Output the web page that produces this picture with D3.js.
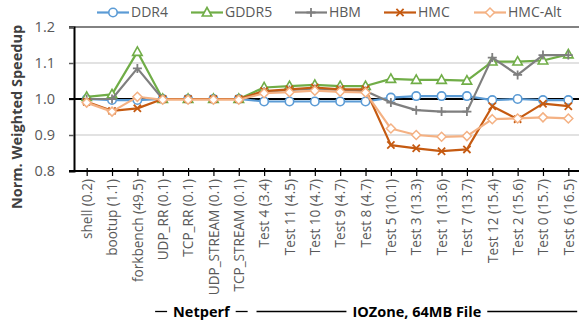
<!DOCTYPE html>
<html>
<head>
<meta charset="utf-8">
<script src="https://cdn.jsdelivr.net/npm/d3@7"></script>
<style>
  html, body { margin: 0; padding: 0; background: #fff; }
  svg { display: block; }
  text { font-family: "Open Sans", "Liberation Sans", sans-serif; }
</style>
</head>
<body>
<svg id="chart" width="579" height="320"></svg>
<script>
// Workloads (value in parentheses: memory intensity)
const categories = [
  "shell (0.2)", "bootup (1.1)", "forkbench (49.5)", "UDP_RR (0.1)", "TCP_RR (0.1)",
  "UDP_STREAM (0.1)", "TCP_STREAM (0.1)", "Test 4 (3.4)", "Test 11 (4.5)", "Test 10 (4.7)",
  "Test 9 (4.7)", "Test 8 (4.7)", "Test 5 (10.1)", "Test 3 (13.3)", "Test 1 (13.6)",
  "Test 7 (13.7)", "Test 12 (15.4)", "Test 2 (15.6)", "Test 0 (15.7)", "Test 6 (16.5)"
];

const seriesNames = ["DDR4", "GDDR5", "HBM", "HMC", "HMC-Alt"];

const ddr4   = [1.000, 0.997, 0.997, 1.000, 1.000, 1.000, 1.000, 0.993, 0.993, 0.993,
                0.993, 0.993, 1.004, 1.008, 1.008, 1.008, 0.997, 1.000, 0.997, 0.997];
const gddr5  = [1.006, 1.013, 1.131, 1.000, 1.000, 1.000, 1.000, 1.032, 1.036, 1.039,
                1.036, 1.036, 1.056, 1.053, 1.053, 1.051, 1.104, 1.104, 1.107, 1.124];
const hbm    = [1.000, 1.000, 1.085, 1.000, 1.000, 1.000, 1.000, 1.020, 1.025, 1.028,
                1.025, 1.022, 0.990, 0.969, 0.965, 0.965, 1.115, 1.067, 1.122, 1.122];
const hmc    = [0.992, 0.967, 0.974, 1.000, 1.000, 1.000, 1.000, 1.022, 1.027, 1.032,
                1.027, 1.027, 0.872, 0.863, 0.855, 0.860, 0.980, 0.944, 0.987, 0.980];
const hmcAlt = [0.990, 0.965, 1.006, 0.998, 0.998, 0.998, 0.998, 1.016, 1.019, 1.023,
                1.020, 1.018, 0.918, 0.900, 0.895, 0.897, 0.944, 0.946, 0.949, 0.946];

const yTicks = [0.8, 0.9, 1.0, 1.1, 1.2];

const groups = [
  { label: "Netperf", from: 3, to: 6 },
  { label: "IOZone, 64MB File", from: 7, to: 19 }
];

const colors = ["#5B9BD5", "#70AD47", "#7F7F7F", "#C55A11", "#F4B183"];
const markers = ["circle", "triangle", "plus", "cross", "diamond"];
const seriesValues = [ddr4, gddr5, hbm, hmc, hmcAlt];

const svg = d3.select("#chart");
const plotLeft = 74, plotRight = 581, plotTop = 27, plotBottom = 171;

const x = d3.scalePoint().domain(categories).range([plotLeft, plotRight]).padding(0.5);
const y = d3.scaleLinear().domain([0.8, 1.2]).range([plotBottom, plotTop]);

// Gridlines
svg.append("g").selectAll("line")
  .data(yTicks.filter(v => v !== 0.8 && v !== 1.0 && v !== 1.2))
  .join("line")
  .attr("x1", plotLeft).attr("x2", plotRight)
  .attr("y1", d => y(d)).attr("y2", d => y(d))
  .attr("stroke", "#D9D9D9").attr("stroke-width", 1.5);

// Top border line at 1.2
svg.append("line")
  .attr("x1", plotLeft - 5).attr("x2", plotRight)
  .attr("y1", y(1.2)).attr("y2", y(1.2))
  .attr("stroke", "#595959").attr("stroke-width", 1.5);

// Y axis
const yAxis = svg.append("g")
  .attr("transform", `translate(${plotLeft},0)`)
  .call(d3.axisLeft(y).tickValues(yTicks).tickFormat(d3.format(".1f")).tickSize(5).tickPadding(14));
yAxis.select(".domain").attr("stroke", "#000").attr("stroke-width", 2);
yAxis.selectAll(".tick line").attr("stroke", "#595959").attr("stroke-width", 1.5);
yAxis.selectAll(".tick text")
  .attr("fill", "#595959")
  .style("font-size", "14.5px")
  .style("font-family", "'Open Sans', sans-serif");

// Reference line at 1.0
svg.append("line")
  .attr("x1", plotLeft - 5).attr("x2", plotRight)
  .attr("y1", y(1.0)).attr("y2", y(1.0))
  .attr("stroke", "#000").attr("stroke-width", 2);

// X axis at the bottom
const xAxis = svg.append("g")
  .attr("transform", `translate(0,${plotBottom})`)
  .call(d3.axisBottom(x).tickSize(5).tickSizeOuter(0).tickPadding(4));
xAxis.select(".domain").attr("stroke", "#000").attr("stroke-width", 2)
  .attr("d", `M${plotLeft - 5},0H${plotRight}`);
xAxis.selectAll(".tick line").attr("stroke", "#000").attr("stroke-width", 1.2)
  .attr("y1", -3);
xAxis.selectAll(".tick text")
  .attr("fill", "#595959")
  .style("font-size", "13.6px")
  .style("font-family", "'Open Sans', sans-serif")
  .attr("text-anchor", "end")
  .attr("dy", "0.35em")
  .attr("transform", "rotate(-90)")
  .attr("x", -8)
  .attr("y", 0);

// Marker symbol paths
function markerPath(kind, s) {
  switch (kind) {
    case "circle": return null;
    case "triangle": return `M0,${-s}L${s * 0.95},${s * 0.7}L${-s * 0.95},${s * 0.7}Z`;
    case "plus": return `M${-s},0H${s}M0,${-s}V${s}`;
    case "cross": return `M${-s * 0.8},${-s * 0.8}L${s * 0.8},${s * 0.8}M${-s * 0.8},${s * 0.8}L${s * 0.8},${-s * 0.8}`;
    case "diamond": return `M0,${-s}L${s},0L0,${s}L${-s},0Z`;
  }
}

function drawMarker(g, kind, color) {
  if (kind === "circle") {
    g.append("circle").attr("r", 4.2).attr("fill", "#fff")
      .attr("stroke", color).attr("stroke-width", 1.6);
  } else if (kind === "triangle") {
    g.append("path").attr("d", markerPath(kind, 5)).attr("fill", "#fff")
      .attr("stroke", color).attr("stroke-width", 1.6);
  } else if (kind === "diamond") {
    g.append("path").attr("d", markerPath(kind, 4.5)).attr("fill", "#fff")
      .attr("stroke", color).attr("stroke-width", 1.5);
  } else {
    g.append("path").attr("d", markerPath(kind, 4.5)).attr("fill", "none")
      .attr("stroke", color).attr("stroke-width", 1.8);
  }
}

// Series lines and markers
const line = d3.line().x((d, i) => x(categories[i])).y(d => y(d));
seriesValues.forEach((vals, si) => {
  const g = svg.append("g");
  g.append("path").datum(vals)
    .attr("d", line)
    .attr("fill", "none")
    .attr("stroke", colors[si])
    .attr("stroke-width", 2.2)
    .attr("stroke-linejoin", "round");
  vals.forEach((v, i) => {
    const m = g.append("g").attr("transform", `translate(${x(categories[i])},${y(v)})`);
    drawMarker(m, markers[si], colors[si]);
  });
});

// Legend
const legendX = [97, 191, 295, 384, 474];
const legendY = 12.5;
seriesNames.forEach((name, si) => {
  const g = svg.append("g").attr("transform", `translate(${legendX[si]},${legendY})`);
  g.append("line").attr("x1", 0).attr("x2", 32).attr("y1", 0).attr("y2", 0)
    .attr("stroke", colors[si]).attr("stroke-width", 2.2);
  const m = g.append("g").attr("transform", "translate(16,0)");
  drawMarker(m, markers[si], colors[si]);
  g.append("text").attr("x", 34).attr("y", 0).attr("dy", "0.35em")
    .attr("fill", "#595959").style("font-size", "14px")
    .text(name);
});

// Y axis title
svg.append("text")
  .attr("transform", "translate(17,117) rotate(-90)")
  .attr("text-anchor", "middle")
  .attr("dy", "0.35em")
  .attr("fill", "#404040")
  .style("font-size", "14.5px")
  .style("font-weight", "bold")
  .text("Norm. Weighted Speedup");

// Category group brackets
const groupY = 311.5;
const step = x.step();
groups.forEach(gr => {
  const x0 = x(categories[gr.from]) - step * 0.3;
  const x1 = x(categories[gr.to]) + step * 0.35;
  const cx = (x0 + x1) / 2;
  const t = svg.append("text")
    .attr("x", cx).attr("y", groupY).attr("dy", "0.35em")
    .attr("text-anchor", "middle")
    .attr("fill", "#000")
    .style("font-size", "14.5px")
    .style("font-weight", "bold")
    .text(gr.label);
  const w = t.node().getComputedTextLength();
  svg.append("line")
    .attr("x1", x0).attr("x2", cx - w / 2 - 6)
    .attr("y1", groupY).attr("y2", groupY)
    .attr("stroke", "#000").attr("stroke-width", 1.3);
  svg.append("line")
    .attr("x1", cx + w / 2 + 6).attr("x2", x1)
    .attr("y1", groupY).attr("y2", groupY)
    .attr("stroke", "#000").attr("stroke-width", 1.3);
});
</script>
</body>
</html>
